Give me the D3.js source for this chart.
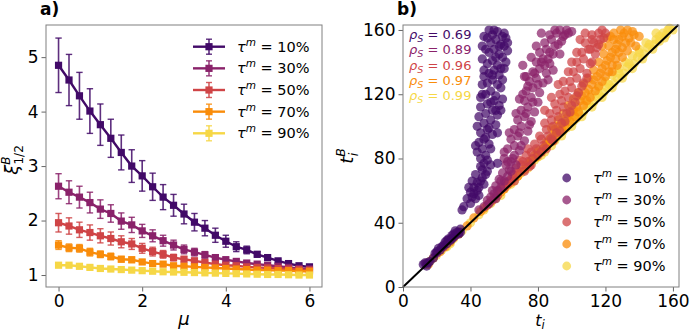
<!DOCTYPE html>
<html>
<head>
<meta charset="utf-8">
<script src="https://cdn.jsdelivr.net/npm/d3@7"></script>
<style>
  body { margin: 0; background: #fff; }
  text { font-family: "DejaVu Sans", sans-serif; }
</style>
</head>
<body>
<div id="chart"></div>
<script>
const width = 690;
const height = 332;

// ---- panel a) data ----
const mu = [0, 0.25, 0.5, 0.75, 1, 1.25, 1.5, 1.75, 2, 2.25, 2.5, 2.75, 3,
            3.25, 3.5, 3.75, 4, 4.25, 4.5, 4.75, 5, 5.25, 5.5, 5.75, 6];
const tauLabels = ['10%', '30%', '50%', '70%', '90%'];
const colors = ['#420a68', '#8a226a', '#cf4446', '#f98c0a', '#f6d746'];

const xi10 = [4.85, 4.58, 4.29, 4.01, 3.76, 3.51, 3.25, 3.0, 2.82, 2.62, 2.43, 2.28, 2.12,
              1.97, 1.86, 1.73, 1.62, 1.52, 1.46, 1.38, 1.32, 1.26, 1.21, 1.17, 1.15];
const xi30 = [2.63, 2.52, 2.43, 2.33, 2.21, 2.13, 1.99, 1.92, 1.81, 1.72, 1.63, 1.55, 1.47,
              1.42, 1.37, 1.32, 1.28, 1.25, 1.22, 1.2, 1.18, 1.16, 1.14, 1.12, 1.11];
const xi50 = [1.96, 1.9, 1.83, 1.78, 1.72, 1.67, 1.61, 1.57, 1.49, 1.43, 1.38, 1.32, 1.29,
              1.26, 1.23, 1.2, 1.18, 1.17, 1.15, 1.14, 1.13, 1.12, 1.11, 1.1, 1.09];
const xi70 = [1.55, 1.5, 1.49, 1.42, 1.38, 1.34, 1.29, 1.28, 1.24, 1.21, 1.2, 1.17, 1.16,
              1.15, 1.14, 1.13, 1.12, 1.11, 1.1, 1.09, 1.09, 1.08, 1.08, 1.07, 1.07];
const xi90 = [1.18, 1.18, 1.16, 1.14, 1.12, 1.11, 1.1, 1.09, 1.08, 1.07, 1.06, 1.055, 1.05,
              1.045, 1.04, 1.035, 1.03, 1.025, 1.02, 1.015, 1.01, 1.01, 1.005, 1.0, 1.0];

const err10 = [0.5, 0.47, 0.43, 0.41, 0.38, 0.35, 0.32, 0.3, 0.28, 0.25, 0.23, 0.2, 0.18,
               0.16, 0.14, 0.13, 0.11, 0.09, 0.07, 0.05, 0.04, 0.03, 0.03, 0.02, 0.02];
const err30 = [0.23, 0.21, 0.2, 0.19, 0.17, 0.16, 0.15, 0.14, 0.12, 0.11, 0.1, 0.09, 0.08,
               0.07, 0.06, 0.05, 0.05, 0.04, 0.04, 0.03, 0.03, 0.02, 0.02, 0.02, 0.02];
const err50 = [0.17, 0.15, 0.14, 0.14, 0.13, 0.12, 0.11, 0.1, 0.09, 0.08, 0.07, 0.06, 0.05,
               0.05, 0.04, 0.04, 0.03, 0.03, 0.03, 0.02, 0.02, 0.02, 0.02, 0.02, 0.02];
const err70 = [0.08, 0.07, 0.07, 0.07, 0.06, 0.06, 0.05, 0.05, 0.04, 0.04, 0.04, 0.03, 0.03,
               0.03, 0.03, 0.02, 0.02, 0.02, 0.02, 0.02, 0.02, 0.02, 0.02, 0.02, 0.02];
const err90 = [0.03, 0.03, 0.03, 0.03, 0.03, 0.02, 0.02, 0.02, 0.02, 0.02, 0.02, 0.02, 0.02,
               0.02, 0.02, 0.02, 0.02, 0.02, 0.02, 0.02, 0.02, 0.02, 0.02, 0.02, 0.02];

const xiSeries = [xi10, xi30, xi50, xi70, xi90];
const errSeries = [err10, err30, err50, err70, err90];

// ---- panel b) data: [t_i, t_i^B] ----
const pts10 = [[12,14],[13,15],[14,13],[15,15],[19,21],[20,22],[21,24],[22,23],[23,25],[24,26],
  [25,28],[26,27],[27,30],[28,29],[29,32],[30,33],[31,32],[32,34],[33,33],[34,34],
  [35,48],[40,52],[41,56],[42,58],[43,55],[44,60],[45,62],[44,65],[46,66],[47,68],
  [48,64],[49,70],[50,72],[46,75],[48,77],[50,79],[52,76],[42,62],[40,59],[45,57],[56,77],
  [44,84],[47,86],[49,82],[45,90],[48,92],[51,89],[46,96],[50,98],[53,95],[48,102],
  [52,104],[55,101],[49,108],[53,110],[56,107],[50,114],[54,116],[57,113],[49,120],[52,122],
  [55,119],[58,124],[50,127],[53,129],[56,126],[51,133],[54,135],[57,132],[50,139],[53,141],
  [56,138],[59,143],[51,146],[54,148],[57,145],[60,150],[52,152],[55,154],[58,151],[53,157],
  [56,159],[59,156],[47,150],[48,135],[46,112],[61,155],[62,147],[47,120],[58,136],
  [43,88],[52,86],[44,100],[56,96],[45,106],[58,110],[46,118],[59,117],[47,126],[59,129],
  [48,131],[60,136],[47,142],[61,140],[49,148],[62,152],[50,155],[60,158],[54,160],[51,160],
  [48,156],[55,143],[52,115],[51,99],[49,93],[53,132],[55,110],[57,150],[46,80],[41,66],
  [38,55],[43,70],[39,62],[47,73],[36,50],[16,16],[18,18],[26,29],[29,30],[31,35],[34,36]];
const pts30 = [[14,15],[20,21],[24,25],[27,29],[30,31],[33,34],
  [45,48],[48,50],[50,54],[52,56],[54,58],[56,60],[55,63],[58,62],[60,66],[57,67],
  [62,69],[59,71],[63,73],[61,76],[64,78],[60,80],[66,82],
  [62,86],[66,88],[69,85],[64,92],[68,94],[72,91],[66,98],[70,100],[74,97],[68,104],
  [72,106],[76,103],[70,110],[74,112],[78,109],[72,116],[76,118],[80,115],[73,122],[77,124],
  [81,121],[75,128],[79,130],[83,127],[77,134],[81,136],[85,133],[79,140],[83,142],[87,139],
  [81,146],[85,148],[89,145],[84,152],[88,154],[92,151],[87,157],[91,158],[95,156],[98,158],
  [71,138],[74,125],[96,157],[100,159],[93,160],[86,142],[90,150],
  [60,84],[63,96],[67,108],[71,120],[73,131],[76,143],[79,150],[82,158],[69,96],[73,108],
  [77,115],[80,126],[84,138],[87,146],[90,160],[94,153],[97,160],[65,80],[67,76],[55,55],
  [51,52],[58,66],[53,60],[64,72],[70,88],[75,101],[78,133],[82,140],[86,129],[89,135],
  [93,145],[62,78],[69,117],[72,131]];
const pts50 = [[50,51],[53,54],[56,57],[58,61],[60,62],[62,64],[64,67],[66,66],[68,71],
  [67,74],[70,76],[69,79],[72,72],[75,75],[74,78],[77,80],[80,82],[76,84],[79,86],[83,88],
  [82,92],[86,94],[89,91],[85,98],[89,100],[93,97],[88,104],[92,106],[96,103],[91,110],
  [95,112],[99,109],[94,116],[98,118],[102,115],[96,122],[100,124],[104,121],[99,128],
  [103,130],[107,127],[101,134],[105,136],[109,133],[103,140],[107,142],[111,139],[106,146],
  [110,148],[114,145],[108,152],[112,154],[116,151],[112,157],[116,158],[119,155],[84,110],
  [88,118],[92,126],[74,86],[78,89],
  [71,78],[73,82],[81,94],[84,102],[87,108],[90,114],[93,120],[95,128],[98,134],[100,140],
  [103,146],[105,154],[108,158],[111,148],[113,152],[117,154],[120,158],[115,149],[112,140],
  [109,130],[106,125],[103,119],[100,113],[97,108],[94,102],[91,96],[88,92],[85,86],[82,84],
  [76,76],[63,66],[65,70],[57,60],[61,65],[118,160]];
const pts70 = [[15,14],[22,22],[28,28],[33,33],[46,47],[50,51],[54,55],[58,59],[62,64],
  [66,68],[70,72],[73,76],[76,79],[78,82],[80,84],[83,86],[85,90],[87,92],[89,94],[90,98],
  [92,100],[95,102],[97,105],[99,108],[101,110],[103,112],[105,116],[106,119],[108,121],
  [110,123],[112,126],[113,129],[115,131],[117,133],[118,136],[120,138],[121,141],[123,143],
  [124,146],[126,148],[127,151],[128,154],[130,156],[131,158],[133,160],[125,158],[122,150],
  [119,145],[116,140],[113,135],[110,130],[107,126],[104,121],[101,117],[98,113],[95,108],
  [92,104],[88,99],[136,159],[129,160],[118,150],[121,155],[135,152],[138,150],[133,147],
  [130,143],[127,138],[124,134],
  [75,77],[79,81],[82,84],[84,87],[86,89],[89,91],[91,95],[94,98],[96,100],[99,103],
  [102,106],[104,109],[107,113],[109,116],[111,118],[114,122],[116,125],[118,128],[120,131],
  [122,134],[124,138],[126,142],[128,146],[130,149],[132,152],[134,155],[137,157],[140,156],
  [125,154],[123,156],[60,61],[64,65],[68,69],[72,73],[56,57],[52,53],[48,49],[42,43],
  [38,38],[30,31],[25,25],[18,18]];
const pts90 = [[14,14],[20,20],[26,25],[30,30],[35,35],[45,45],[52,52],[58,57],[62,63],
  [66,66],[70,71],[74,74],[78,79],[82,82],[85,87],[88,88],[91,93],[94,94],[97,99],[100,100],
  [103,105],[106,106],[109,112],[112,112],[115,118],[118,118],[121,124],[124,124],[127,130],
  [130,130],[133,137],[136,136],[139,143],[142,142],[145,149],[148,148],[150,154],[152,153],
  [154,158],[156,157],[158,161],[160,160],[112,120],[120,128],[128,136],[136,144],[144,152],
  [150,158],[104,110],[96,102],[88,93],[80,85],
  [16,16],[23,23],[28,27],[33,33],[40,40],[48,48],[55,55],[60,61],[64,64],[68,69],[72,73],
  [76,77],[80,81],[84,84],[86,90],[90,91],[92,96],[95,97],[98,102],[101,103],[104,107],
  [107,109],[110,114],[113,115],[116,120],[119,121],[122,126],[125,127],[128,133],[131,133],
  [134,139],[137,139],[140,146],[143,145],[146,151],[149,151],[152,156],[155,155],[157,160],
  [108,116],[116,124],[124,132],[132,140],[140,148],[100,106],[92,98]];
const ptsSeries = [pts10, pts30, pts50, pts70, pts90];
const rhoLabels = ['0.69', '0.89', '0.96', '0.97', '0.99'];

const xTicksA = [0, 2, 4, 6];
const yTicksA = [1, 2, 3, 4, 5];
const ticksB = [0, 40, 80, 120, 160];

const svg = d3.select('#chart')
    .append('svg')
    .attr('width', width)
    .attr('height', height);

// ---------- panel a ----------
const xA = d3.scaleLinear().domain([-0.3, 6.3]).range([46, 322]);
const yA = d3.scaleLinear().domain([0.78, 5.59]).range([287, 25]);

function styleAxis(g) {
    g.select('.domain').remove();
    g.selectAll('line').attr('stroke', '#555').attr('stroke-width', 0.9);
    g.selectAll('text').attr('font-size', 17).attr('fill', '#000')
        .attr('font-family', '"DejaVu Sans", sans-serif');
}

svg.append('g').attr('transform', 'translate(0,287)')
    .call(d3.axisBottom(xA).tickValues(xTicksA).tickFormat(d3.format('d'))
        .tickSize(4.5).tickPadding(3))
    .call(styleAxis);
svg.append('g').attr('transform', 'translate(46,0)')
    .call(d3.axisLeft(yA).tickValues(yTicksA).tickFormat(d3.format('d'))
        .tickSize(4.5).tickPadding(3))
    .call(styleAxis);

const panelA = svg.append('g');
xiSeries.forEach((vals, k) => {
    const c = colors[k];
    const errs = errSeries[k];
    const g = panelA.append('g');
    mu.forEach((m, i) => {
        const x = xA(m), y1 = yA(vals[i] - errs[i]), y2 = yA(vals[i] + errs[i]);
        g.append('line').attr('x1', x).attr('x2', x).attr('y1', y1).attr('y2', y2)
            .attr('stroke', c).attr('stroke-width', 1.6).attr('opacity', 0.85);
        [y1, y2].forEach(yy => g.append('line')
            .attr('x1', x - 3.2).attr('x2', x + 3.2).attr('y1', yy).attr('y2', yy)
            .attr('stroke', c).attr('stroke-width', 1.4).attr('opacity', 0.85));
    });
    g.append('path')
        .datum(mu.map((m, i) => [m, vals[i]]))
        .attr('d', d3.line().x(d => xA(d[0])).y(d => yA(d[1])))
        .attr('fill', 'none').attr('stroke', c).attr('stroke-width', 2.4);
    g.selectAll('rect.m').data(mu.map((m, i) => [m, vals[i]])).enter()
        .append('rect').attr('class', 'm')
        .attr('x', d => xA(d[0]) - 3.6).attr('y', d => yA(d[1]) - 3.6)
        .attr('width', 7.2).attr('height', 7.2).attr('fill', c);
});

svg.append('rect').attr('x', 46).attr('y', 25).attr('width', 276).attr('height', 262)
    .attr('fill', 'none').attr('stroke', '#808080').attr('stroke-width', 1);

// legend a
tauLabels.forEach((lab, k) => {
    const y = 46.7 + 21.65 * k;
    const c = colors[k];
    svg.append('line').attr('x1', 193).attr('x2', 225).attr('y1', y).attr('y2', y)
        .attr('stroke', c).attr('stroke-width', 2.4);
    svg.append('line').attr('x1', 209).attr('x2', 209).attr('y1', y - 7.5).attr('y2', y + 7.5)
        .attr('stroke', c).attr('stroke-width', 1.6).attr('opacity', 0.85);
    [y - 7.5, y + 7.5].forEach(yy => svg.append('line')
        .attr('x1', 206).attr('x2', 212).attr('y1', yy).attr('y2', yy)
        .attr('stroke', c).attr('stroke-width', 1.4).attr('opacity', 0.85));
    svg.append('rect').attr('x', 205.4).attr('y', y - 3.6).attr('width', 7.2).attr('height', 7.2)
        .attr('fill', c);
    const t = svg.append('text').attr('x', 237).attr('y', y + 5).attr('font-size', 14.5);
    t.append('tspan').attr('font-style', 'italic').text('τ');
    t.append('tspan').attr('font-style', 'italic').attr('font-size', 10.5).attr('dy', -6).text('m');
    t.append('tspan').attr('dy', 6).text(' = ' + lab);
});

svg.append('text').attr('x', 40).attr('y', 15).attr('font-size', 17)
    .attr('font-weight', 'bold').text('a)');

svg.append('text').attr('x', 184).attr('y', 325).attr('text-anchor', 'middle')
    .attr('font-size', 18).attr('font-style', 'italic').text('μ');

const yl = svg.append('text').attr('transform', 'translate(18,160) rotate(-90)')
    .attr('text-anchor', 'middle').attr('font-size', 18);
yl.append('tspan').attr('font-style', 'italic').text('ξ');
yl.append('tspan').attr('font-style', 'italic').attr('font-size', 12).attr('dy', -8).text('B');
yl.append('tspan').attr('font-size', 12).attr('dx', -8).attr('dy', 13).text('1/2');

// ---------- panel b ----------
const xB = d3.scaleLinear().domain([0, 163.6]).range([403, 679]);
const yB = d3.scaleLinear().domain([0, 163.1]).range([287, 25]);

svg.append('g').attr('transform', 'translate(0,287)')
    .call(d3.axisBottom(xB).tickValues(ticksB).tickSize(4.5).tickPadding(3))
    .call(styleAxis);
svg.append('g').attr('transform', 'translate(403,0)')
    .call(d3.axisLeft(yB).tickValues(ticksB).tickSize(4.5).tickPadding(3))
    .call(styleAxis);

const panelB = svg.append('g');
[4, 3, 2, 1, 0].forEach(k => {
    panelB.append('g').selectAll('circle').data(ptsSeries[k]).enter()
        .append('circle')
        .attr('cx', d => xB(d[0])).attr('cy', d => yB(d[1]))
        .attr('r', 4.6).attr('fill', colors[k]).attr('fill-opacity', 0.72);
});

svg.append('line')
    .attr('x1', xB(0)).attr('y1', yB(0)).attr('x2', xB(163.3)).attr('y2', yB(163.3))
    .attr('stroke', '#000').attr('stroke-width', 2);

svg.append('rect').attr('x', 403).attr('y', 25).attr('width', 276).attr('height', 262)
    .attr('fill', 'none').attr('stroke', '#808080').attr('stroke-width', 1);

rhoLabels.forEach((r, k) => {
    const t = svg.append('text').attr('x', 409).attr('y', 39 + 15.3 * k)
        .attr('font-size', 13).attr('fill', colors[k]);
    t.append('tspan').attr('font-style', 'italic').text('ρ');
    t.append('tspan').attr('font-style', 'italic').attr('font-size', 9.5).attr('dy', 3).text('S');
    t.append('tspan').attr('dy', -3).text(' = ' + r);
});

tauLabels.forEach((lab, k) => {
    const y = 178 + 22 * k;
    svg.append('circle').attr('cx', 566.7).attr('cy', y).attr('r', 4.4)
        .attr('fill', colors[k]).attr('fill-opacity', 0.75);
    const t = svg.append('text').attr('x', 593).attr('y', y + 5).attr('font-size', 14.5);
    t.append('tspan').attr('font-style', 'italic').text('τ');
    t.append('tspan').attr('font-style', 'italic').attr('font-size', 10.5).attr('dy', -6).text('m');
    t.append('tspan').attr('dy', 6).text(' = ' + lab);
});

svg.append('text').attr('x', 397).attr('y', 15).attr('font-size', 17)
    .attr('font-weight', 'bold').text('b)');

const xl = svg.append('text').attr('x', 540).attr('y', 326).attr('text-anchor', 'middle')
    .attr('font-size', 16);
xl.append('tspan').attr('font-style', 'italic').text('t');
xl.append('tspan').attr('font-style', 'italic').attr('font-size', 11.5).attr('dy', 3).text('i');

const yl2 = svg.append('text').attr('transform', 'translate(353,156) rotate(-90)')
    .attr('text-anchor', 'middle').attr('font-size', 18);
yl2.append('tspan').attr('font-style', 'italic').text('t');
yl2.append('tspan').attr('font-style', 'italic').attr('font-size', 12.5).attr('dy', -8).text('B');
yl2.append('tspan').attr('font-style', 'italic').attr('font-size', 12.5).attr('dx', -8).attr('dy', 13).text('i');
</script>
</body>
</html>
